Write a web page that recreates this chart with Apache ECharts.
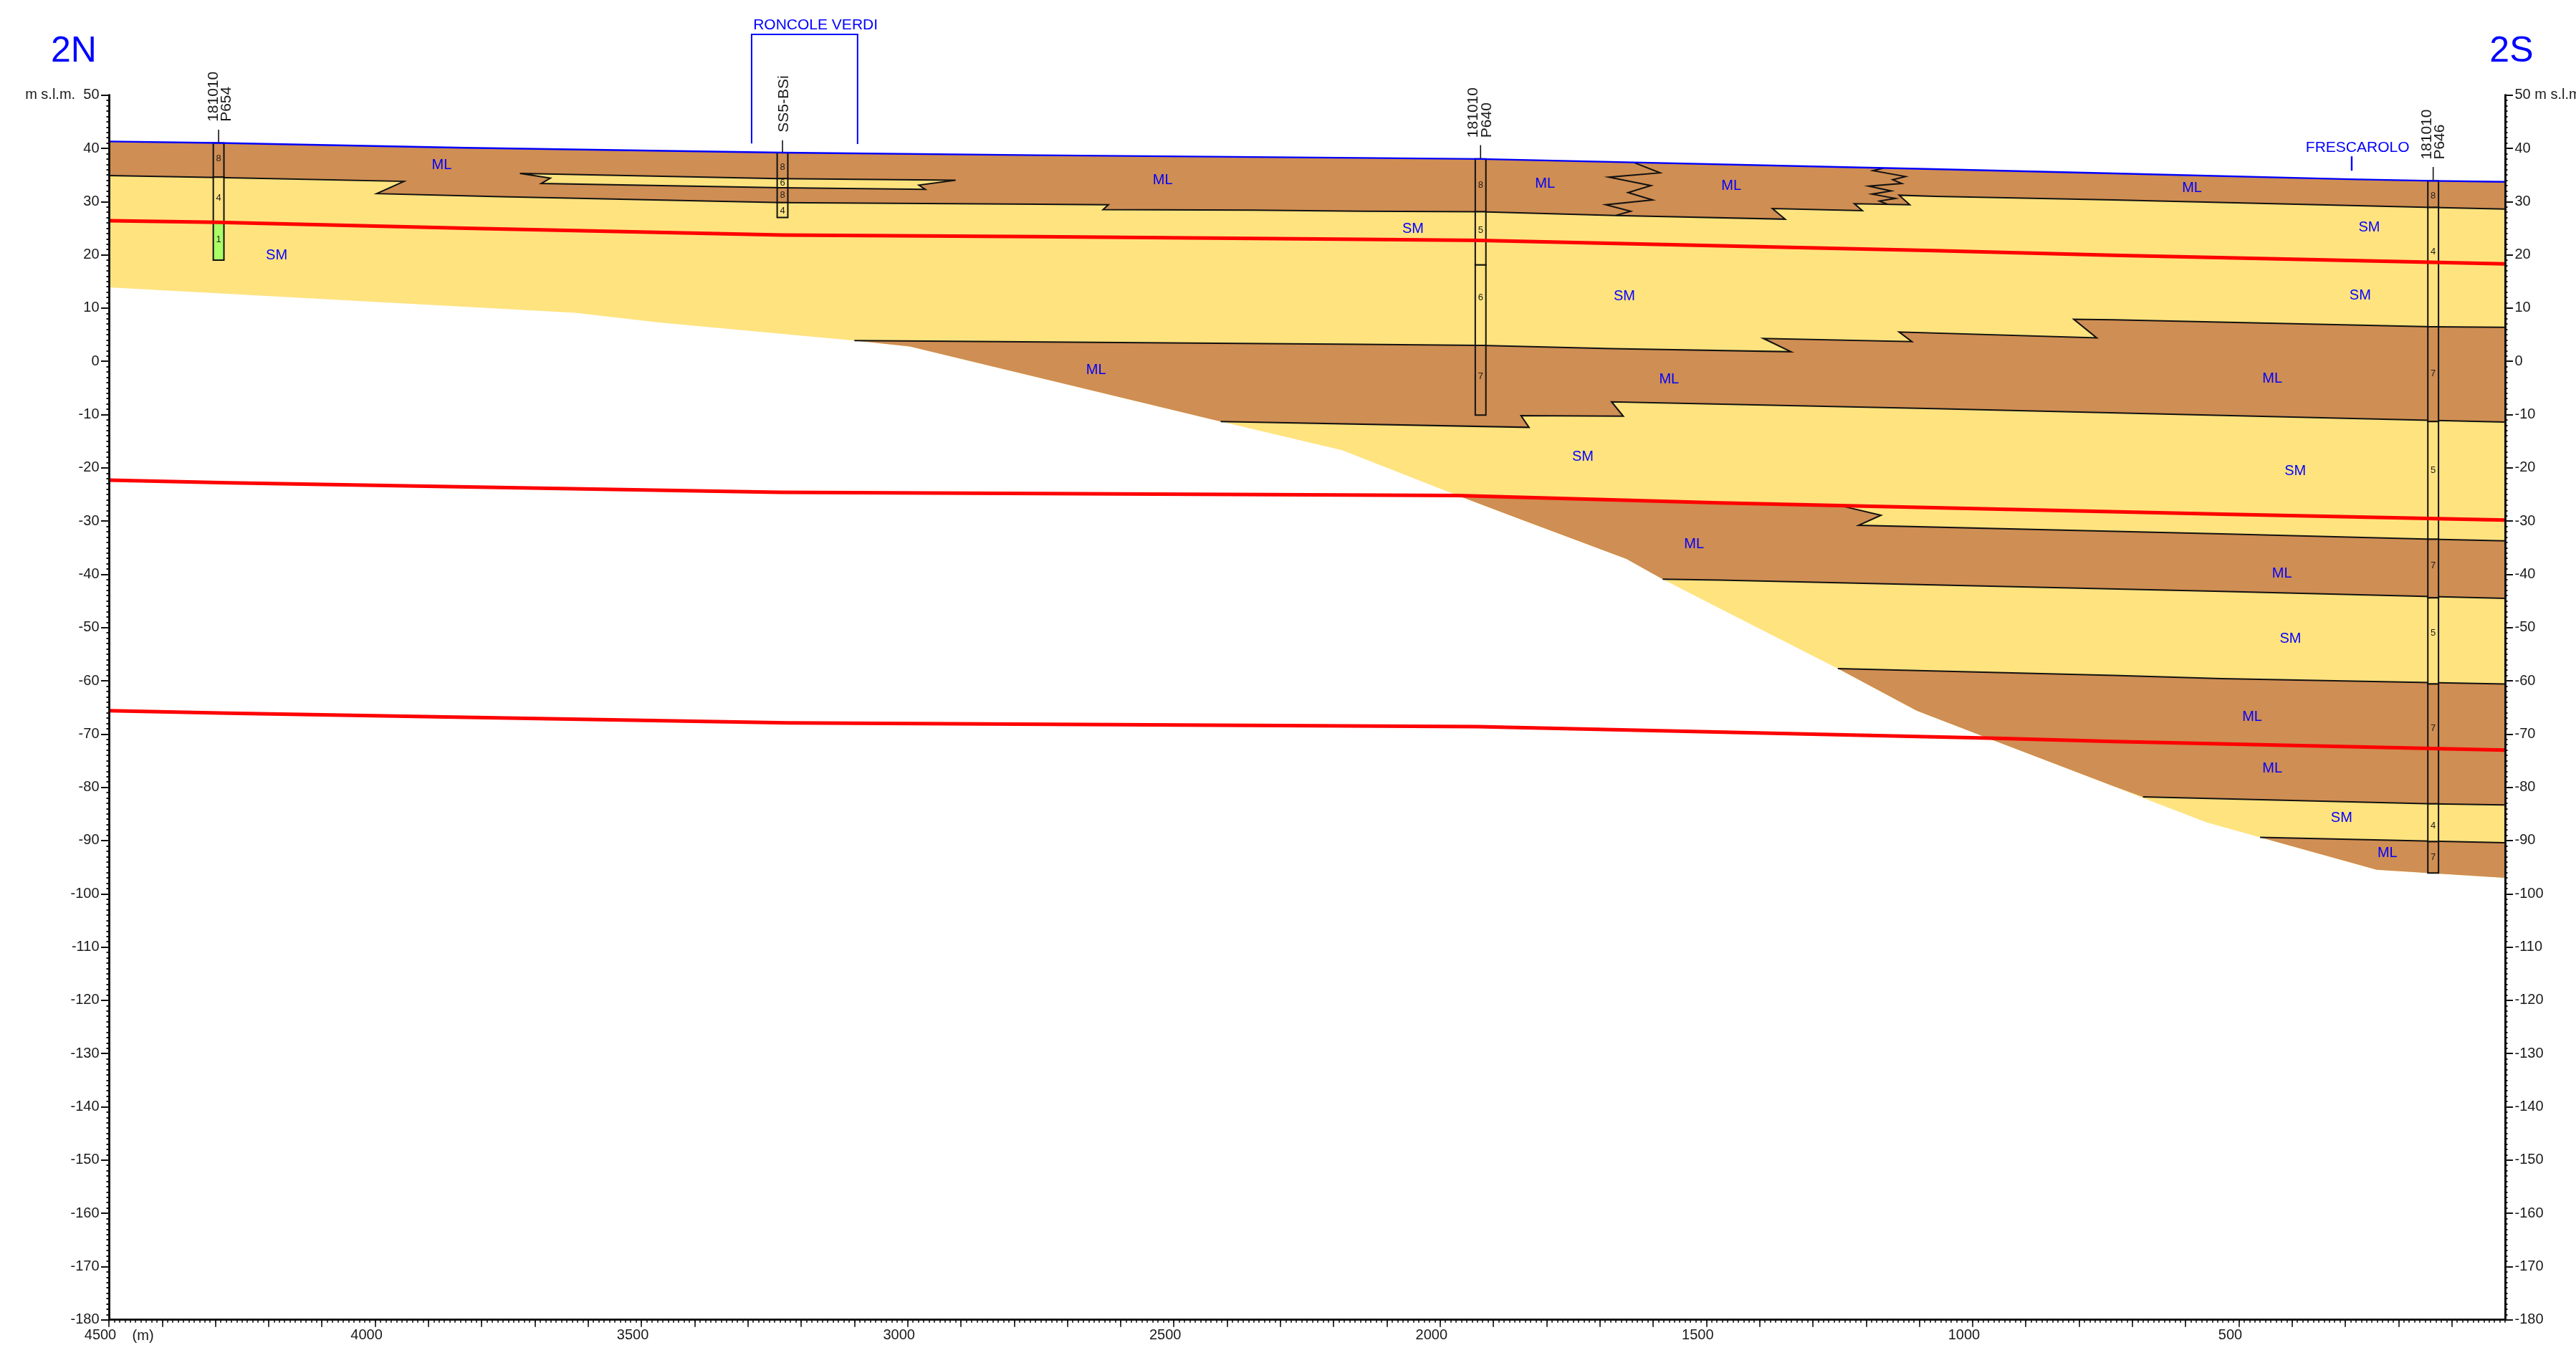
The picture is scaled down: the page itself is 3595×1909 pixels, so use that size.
<!DOCTYPE html>
<html><head><meta charset="utf-8">
<style>html,body{margin:0;padding:0;background:#fff;overflow:hidden}#c{width:3595px;height:1909px}</style>
<script src="https://cdn.jsdelivr.net/npm/echarts@6/dist/echarts.min.js"></script>
</head><body><div id="c"></div>
<script>
// ---- horizontal distance in m (axis runs 4500 -> 0), elevation in m s.l.m. ----
const topography = [[4500,41.3],[4294,41],[3830,40.1],[3235,39.2],[2754,38.7],[2148,38.2],[1924,38],[1072,36.1],[735,35.3],[290,34.2],[135,33.9],[0,33.7]];
const bedrock = [[4500,13.9],[3624,9.1],[3467,7.3],[3100,3.9],[2996,2.8],[2412,-11.3],[2184,-16.7],[1967,-25.2],[1864,-29.1],[1650,-37.1],[1582,-40.9],[1475,-46.4],[1253,-57.7],[1105,-65.6],[955,-71.4],[735,-79.8],[680,-82],[560,-86.6],[460,-89.4],[241,-95.5],[0,-97]];
const contactA = [[4500,34.9],[4294,34.5],[3946,33.8],[3997,31.5],[3763,30.9],[3235,29.8],[2753,29.5],[2623,29.4],[2633,28.5],[2350,28.4],[2148,28.2],[1924,28.1],[1670,27.4],[1352,26.7],[1376,28.7],[1207,28.3],[1222,29.6],[1118,29.4],[1138,31.2],[1071,31],[735,30.3],[135,28.9],[0,28.6]];
const lensSM = [[3728,35.3],[3244,34.3],[2910,34.0],[2979,33.1],[2967,32.3],[3235,32.6],[3688,33.4],[3671,34.4],[3728,35.3]];
const contactB = [[3100,3.9],[2148,3.2],[1924,3.0],[1678,2.4],[1341,1.8],[1393,4.3],[1114,3.7],[1138,5.5],[767,4.4],[810,7.9],[735,7.8],[135,6.5],[0,6.4]];
const contactC = [[2412,-11.3],[1833,-12.4],[1848,-10.2],[1656,-10.3],[1678,-7.6],[1071,-8.9],[0,-11.4]];
const contactD = [[1257,-26.9],[1172,-28.9],[1214,-30.8],[532,-32.4],[135,-33.4],[0,-33.7]];
const contactE = [[1582,-40.9],[1475,-41.1],[532,-43.2],[0,-44.5]];
const contactF = [[1253,-57.7],[735,-59],[532,-59.6],[0,-60.6]];
const contactG = [[680,-81.8],[135,-83.1],[0,-83.3]];
const contactH = [[460,-89.4],[0,-90.4]];
const zigzag1 = [[1635,37.3],[1587,35.4],[1683,34.6],[1604,33.0],[1647,31.7],[1601,30.3],[1689,29.4],[1642,28.2],[1670,27.4]];
const zigzag2 = [[1167,36.3],[1187,35.8],[1126,34.7],[1150,34.1],[1133,33.4],[1195,32.9],[1153,32.0],[1189,31.4],[1145,30.6],[1175,30.1],[1160,29.5]];
const red1 = [[4500,26.4],[4294,26.1],[3830,25.0],[3235,23.7],[2754,23.4],[2148,22.9],[1924,22.7],[1071,20.8],[735,19.9],[0,18.3]];
const red2 = [[4500,-22.3],[4275,-22.8],[3240,-24.6],[1967,-25.2],[1678,-26],[1475,-26.6],[532,-28.7],[0,-29.8]];
const red3 = [[4500,-65.6],[4275,-66.1],[3225,-67.9],[1930,-68.6],[955,-70.8],[735,-71.4],[0,-73]];
const ml3Top = [[1967,-25.2],[1678,-26],[1475,-26.6]];
// boreholes: x, leader top, segment tops/bottoms, soil class code per segment, code label elevation
const boreholeP654 = {x:4294, top:43.5, segs:[[41,34.6,'ml','8',38],[34.6,26,'sm','4',30.7],[26,19,'gr','1',22.8]]};
const boreholeSS5  = {x:3235, top:41.5, segs:[[39.2,34.3,'ml','8',36.5],[34.3,32.6,'sm','6',33.5],[32.6,29.8,'ml','8',31.2],[29.8,27,'sm','4',28.2]]};
const boreholeP640 = {x:1924, top:40.6, segs:[[38,28.1,'ml','8',33.1],[28.1,18.1,'sm','5',24.6],[18.1,3,'sm','6',12],[3,-10.1,'ml','7',-2.9]]};
const boreholeP646 = {x:135,  top:36.5, segs:[[33.9,28.9,'ml','8',31],[28.9,6.5,'sm','4',20.6],[6.5,-11.3,'ml','7',-2.3],[-11.3,-33.4,'sm','5',-20.5],[-33.4,-44.4,'ml','7',-38.4],[-44.4,-60.6,'sm','5',-51],[-60.6,-83.1,'ml','7',-68.9],[-83.1,-90.2,'sm','4',-87.3],[-90.2,-96.1,'ml','7',-93.1]]};
const soilLabels = [['ML',3875,36.9],['SM',4185,19.9],['ML',2521,34.0],['ML',1803,33.3],['ML',1453,32.9],['SM',2051,24.9],['ML',588,32.5],['SM',255,25.1],['SM',272,12.3],['SM',1654,12.2],['ML',2646,-1.7],['ML',1570,-3.4],['ML',437,-3.3],['SM',1732,-18],['SM',394,-20.6],['ML',1523,-34.4],['ML',419,-39.9],['SM',403,-52.1],['ML',475,-66.8],['ML',437,-76.5],['SM',307,-85.8],['ML',221,-92.4]];
const placeLabels = [['RONCOLE VERDI',3173,63.1],['FRESCAROLO',277,40.1]];
const sectionEnds = [['2N',4566,58.1],['2S',-12,58.1]];
const roncoleBracket = [[3293,40.9],[3293,61.4],[3094,61.4],[3094,40.8]];
const frescaroloTick = [[288,38.5],[288,35.8]];
const boreNames = [['181010',4303,45],['P654',4279,45],['SS5-BSi',3232,43],['181010',1938,42],['P640',1912,42],['181010',147,37.9],['P646',122,37.9]];
const unitLabel = [['(m)',4436,-183]];

const YELLOW='#FFE37F', BROWN='#CF8E53', GREEN='#AAFF66', BLUE='#0000FF', RED='#FF0000', INK='#111111', TXT='#1a1a1a';
const FONT='"Liberation Sans"';
const soilFill={ml:BROWN,sm:YELLOW,gr:GREEN};

function base(z){return {xAxisIndex:0,yAxisIndex:0,z,silent:true,animation:false};}
function poly(points,fill,stroke,z){
  return Object.assign(base(z),{type:'custom',coordinateSystem:'cartesian2d',clip:false,data:points,
    renderItem:(p,api)=>p.dataIndex?null:{type:'polygon',shape:{points:points.map(q=>api.coord(q))},
      style:{fill:fill,stroke:stroke||null,lineWidth:stroke?2:0}}});
}
function line(points,color,width,z,clip){
  return Object.assign(base(z),{type:'line',data:points,showSymbol:false,symbol:'none',clip:!!clip,
    lineStyle:{color:color,width:width,join:'miter',cap:'butt'}});
}
function texts(rows,size,color,z,opt){
  opt=opt||{};
  return Object.assign(base(z),{type:'custom',coordinateSystem:'cartesian2d',clip:false,data:rows.map(r=>[r[1],r[2]]),
    renderItem:(p,api)=>{const c=api.coord([rows[p.dataIndex][1],rows[p.dataIndex][2]]);
      return {type:'text',x:c[0],y:c[1],rotation:opt.rot||0,
        style:{text:rows[p.dataIndex][0],fill:color,font:size+'px '+FONT,align:opt.align||'center',verticalAlign:'middle'}};}});
}
function borehole(b){
  const hw=10, out=[];
  b.segs.forEach(s=>{
    const rect=[[b.x-hw,s[0]],[b.x+hw,s[0]],[b.x+hw,s[1]],[b.x-hw,s[1]],[b.x-hw,s[0]]];
    out.push(poly(rect,soilFill[s[2]],INK,5));
  });
  out.push(line([[b.x,b.top],[b.x,b.segs[0][0]]],INK,1.6,5,false));
  out.push(texts(b.segs.map(s=>[s[3],b.x,s[4]]),13,'#222',6));
  return out;
}
const polyML1=topography.concat(contactA.slice().reverse());
const polyML2=contactB.concat(contactC.slice().reverse(),[[2996,2.8]]);
const polyML3=ml3Top.concat(contactD,contactE.slice().reverse(),[[1650,-37.1],[1864,-29.1]]);
const polyML4=contactF.concat(contactG.slice().reverse(),[[735,-79.8],[955,-71.4],[1105,-65.6]]);
const polyML5=contactH.concat([[0,-97],[241,-95.5]]);
const polySM=topography.concat(bedrock.slice().reverse());

const series=[
  poly(polySM,YELLOW,null,1),
  poly(polyML1,BROWN,null,2),poly(polyML2,BROWN,null,2),poly(polyML3,BROWN,null,2),poly(polyML4,BROWN,null,2),poly(polyML5,BROWN,null,2),
  poly(lensSM,YELLOW,INK,3),
  ...[contactA,contactB,contactC,contactD,contactE,contactF,contactG,contactH,zigzag1,zigzag2].map(c=>line(c,INK,2,4,false)),
  ...borehole(boreholeP654),...borehole(boreholeSS5),...borehole(boreholeP640),...borehole(boreholeP646),
  line(red1,RED,5,7),line(red2,RED,5,7),line(red3,RED,5,7),
  line(topography,BLUE,2.4,8),
  line(roncoleBracket,BLUE,2,8,false),line(frescaroloTick,BLUE,2.4,8,false),
  texts(soilLabels,20,BLUE,9),
  texts(placeLabels,21,BLUE,9),
  texts(sectionEnds,50,BLUE,9),
  texts(boreNames,21,TXT,9,{rot:Math.PI/2,align:'left'}),
  texts(unitLabel,20,TXT,9)
];

function xAxisDef(interval,tickLen,showLabel,lineW){
  return {type:'value',inverse:true,min:0,max:4500,interval:interval,position:'bottom',z:10,silent:true,
    axisLine:{show:true,onZero:false,lineStyle:{color:INK,width:lineW}},
    axisTick:{show:true,length:tickLen,lineStyle:{color:INK,width:1.6}},
    splitLine:{show:false},minorTick:{show:false},
    axisLabel:{show:showLabel,margin:12,color:TXT,fontFamily:FONT,fontSize:20,padding:[0,24,0,0],
      showMinLabel:false,showMaxLabel:true,
      formatter:v=>(v>0&&v%500===0)?String(v):''}};
}
function yAxisDef(pos,interval,tickLen,showLabel){
  return {type:'value',min:-180,max:50,interval:interval,position:pos,z:10,silent:true,
    axisLine:{show:true,onZero:false,lineStyle:{color:INK,width:3}},
    axisTick:{show:true,length:tickLen,lineStyle:{color:INK,width:2}},
    splitLine:{show:false},minorTick:{show:false},
    axisLabel:{show:showLabel,margin:13.5,color:TXT,fontFamily:FONT,fontSize:20,padding:[0,0,6,0],
      showMinLabel:true,showMaxLabel:true,
      formatter:v=>v===50?(pos==='left'?'m s.l.m.  50':'50 m s.l.m.'):String(v)}};
}
const chart=echarts.init(document.getElementById('c'),null,{renderer:'canvas',width:3595,height:1909});
chart.setOption({
  animation:false,backgroundColor:'#fff',
  grid:{left:152,top:132.7,width:3344,height:1709,containLabel:false,show:false,outerBoundsMode:'none'},
  xAxis:[xAxisDef(100,10,true,2.5),xAxisDef(10,4,false,2.5)],
  yAxis:[yAxisDef('left',10,11,true),yAxisDef('right',10,11,true),yAxisDef('left',1,3.5,false),yAxisDef('right',1,3.5,false)],
  series:series
});
</script></body></html>
